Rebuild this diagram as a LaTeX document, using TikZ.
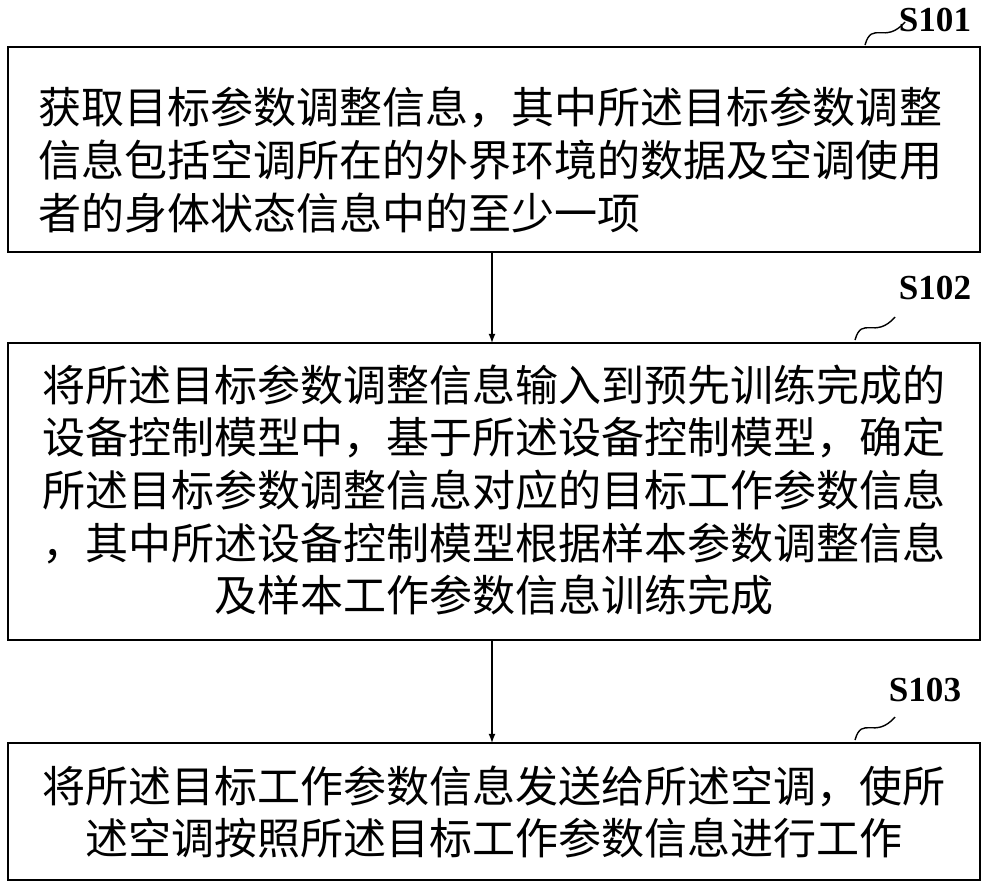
\documentclass[tikz,border=0pt]{standalone}
\usepackage{fontspec}
\newfontfamily\cjk{Noto Sans CJK SC}
\setmainfont{Liberation Serif}
\usetikzlibrary{positioning}
\begin{document}
\begin{tikzpicture}[thick, x=0.02cm, y=-0.02cm]
    \tikzset{stepbox/.style={draw=black, inner sep=0pt},
             steptext/.style={font=\cjk\fontsize{24.5pt}{30pt}\selectfont, text width=19.2cm},
             steplabel/.style={font=\bfseries\fontsize{20pt}{24pt}\selectfont}}
    \useasboundingbox (0,0) rectangle (1000,890);
    % Boxes
    \draw[stepbox] (8,47) rectangle (980,252);
    \draw[stepbox] (8,343) rectangle (980,640);
    \draw[stepbox] (8,743) rectangle (980,880);
    \coordinate (b1s) at (492,252); \coordinate (b2n) at (492,343);
    \coordinate (b2s) at (492,640); \coordinate (b3n) at (492,743);
    % Texts
    \node[steptext, align=left] (t1) at (518,160) {获取目标参数调整信息，其中所述目标参数调整\\信息包括空调所在的外界环境的数据及空调使用\\者的身体状态信息中的至少一项};
    \node[steptext, align=center] (t2) at (494,490) {将所述目标参数调整信息输入到预先训练完成的\\设备控制模型中，基于所述设备控制模型，确定\\所述目标参数调整信息对应的目标工作参数信息\\，其中所述设备控制模型根据样本参数调整信息\\及样本工作参数信息训练完成};
    \node[steptext, align=center] (t3) at (494,812) {将所述目标工作参数信息发送给所述空调，使所\\述空调按照所述目标工作参数信息进行工作};
    % Arrows
    \draw[-latex] (b1s) -- (b2n);
    \draw[-latex] (b2s) -- (b3n);
    % Step labels
    \node[steplabel] (l1) at (935,20) {S101};
    \node[steplabel] (l2) at (935,288) {S102};
    \node[steplabel] (l3) at (925,690) {S103};
    \draw (865,45) .. controls (872,20) and (885,45) .. (905,22);
    \draw (855,340) .. controls (862,315) and (875,340) .. (895,317);
    \draw (855,740) .. controls (862,715) and (875,740) .. (895,717);
\end{tikzpicture}
\end{document}
